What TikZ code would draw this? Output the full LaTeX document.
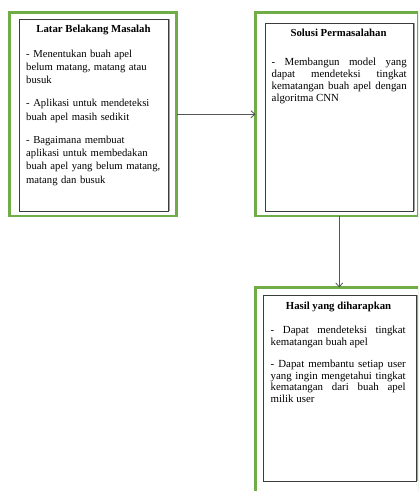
\documentclass[tikz,border=0pt]{standalone}
\usepackage{fontspec}
\setmainfont{Liberation Serif}
\usetikzlibrary{arrows.meta}
\definecolor{frameGreen}{RGB}{112,173,71}
\definecolor{innerLine}{RGB}{60,60,60}
\definecolor{shadowGray}{RGB}{160,160,160}
\definecolor{arrowGray}{RGB}{85,85,85}
\begin{document}
\begin{tikzpicture}[x=1bp,y=-1bp,
  greenbox/.style={draw=frameGreen,line width=2.5bp,inner sep=0,outer sep=0,anchor=north west},
  innerbox/.style={draw=innerLine,line width=0.9bp,inner sep=0,outer sep=0,anchor=north west},
  titletext/.style={font=\fontsize{10.8}{13}\selectfont\bfseries,inner sep=0,anchor=base},
  bodyA/.style={font=\fontsize{10.7}{13.4}\selectfont,inner sep=0,anchor=north west,text width=145bp,align=left},
  bodyB/.style={font=\fontsize{10.9}{11.8}\selectfont,inner sep=0,anchor=north west,text width=135bp,align=justify},
  link/.style={draw=arrowGray,line width=0.8bp,-{Straight Barb[length=4bp,width=7bp]}}]
\clip (0,0) rectangle (418,491);
% outer green frames
\node[greenbox,minimum width=167bp,minimum height=203.5bp] (g1) at (9.5,12.5) {};
\node[greenbox,minimum width=162.5bp,minimum height=203.5bp] (g2) at (255.5,12.5) {};
\node[greenbox,minimum width=164bp,minimum height=222.5bp] (g3) at (255.5,287.5) {};
% inner boxes
\node[innerbox,minimum width=149bp,minimum height=192bp] (i1) at (19,19) {};
\node[innerbox,minimum width=148bp,minimum height=188bp] (i2) at (265,23) {};
\node[innerbox,minimum width=153bp,minimum height=186bp] (i3) at (263,295) {};
\foreach \b in {i1,i2,i3}{
  \draw[shadowGray,line width=1bp] ([xshift=1bp]\b.north east) -- ([xshift=1bp]\b.south east);
}
% titles
\node[titletext] (t1) at (93.5,33) {Latar Belakang Masalah};
\node[titletext] (t2) at (338.5,37) {Solusi Permasalahan};
\node[titletext] (t3) at (338.5,309) {Hasil yang diharapkan};
% body texts
\node[bodyA] (b1) at (26,49.5) {- Menentukan buah apel\\ belum matang, matang atau\\ busuk\\[9.6bp]
- Aplikasi untuk mendeteksi\\ buah apel masih sedikit\\[9.6bp]
- Bagaimana membuat\\ aplikasi untuk membedakan\\ buah apel yang belum matang,\\ matang dan busuk};
\node[bodyB] (b2) at (271.5,58) {- Membangun model yang\linebreak dapat mendeteksi tingkat\linebreak kematangan buah apel dengan\linebreak algoritma CNN};
\node[bodyB] (b3) at (270.5,326) {- Dapat mendeteksi tingkat\linebreak kematangan buah apel\par\vspace{10.2bp}
- Dapat membantu setiap user\linebreak yang ingin mengetahui tingkat\linebreak kematangan dari buah apel\linebreak milik user};
% connectors
\draw[link] (g1.east) -- (g2.west);
\draw[link] ([xshift=2.5bp]g2.south) -- ([xshift=2.5bp]g2.south |- g3.north);
\end{tikzpicture}
\end{document}
